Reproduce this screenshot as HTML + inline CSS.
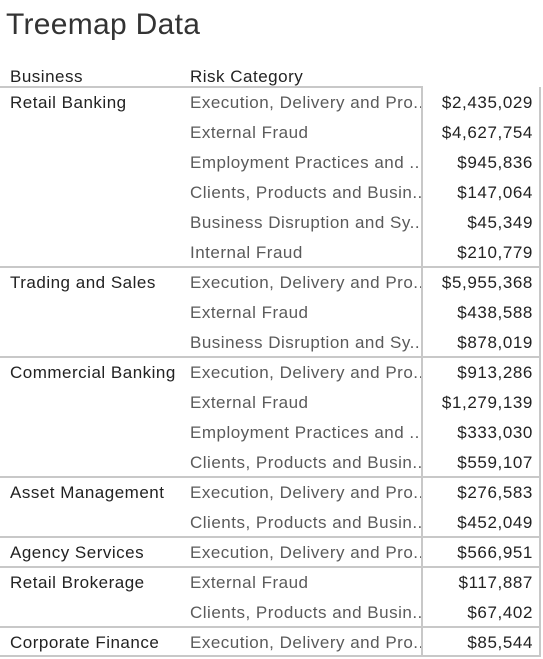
<!DOCTYPE html>
<html><head><meta charset="utf-8"><style>
body{margin:0;width:543px;height:659px;background:#fff;font-family:"Liberation Sans",Arial,sans-serif;position:relative;overflow:hidden}
.t{position:absolute;white-space:nowrap;font-size:17px;letter-spacing:0.5px;line-height:30px}
.h{position:absolute;height:2px;background:#c8c8c8}
.v{position:absolute;width:2px;background:#c8c8c8}
</style></head><body>
<div class="t" style="left:6px;top:8px;font-size:30px;letter-spacing:0.3px;line-height:34px;color:#333">Treemap Data</div>
<div class="t" style="left:10px;top:63px;line-height:28px;color:#222">Business</div>
<div class="t" style="left:190px;top:63px;line-height:28px;color:#222">Risk Category</div>
<div id="tbl"></div>
<script>
const businesses=["Retail Banking","Retail Banking","Retail Banking","Retail Banking","Retail Banking","Retail Banking","Trading and Sales","Trading and Sales","Trading and Sales","Commercial Banking","Commercial Banking","Commercial Banking","Commercial Banking","Asset Management","Asset Management","Agency Services","Retail Brokerage","Retail Brokerage","Corporate Finance"];
const categories=["Execution, Delivery and Pro..","External Fraud","Employment Practices and ..","Clients, Products and Busin..","Business Disruption and Sy..","Internal Fraud","Execution, Delivery and Pro..","External Fraud","Business Disruption and Sy..","Execution, Delivery and Pro..","External Fraud","Employment Practices and ..","Clients, Products and Busin..","Execution, Delivery and Pro..","Clients, Products and Busin..","Execution, Delivery and Pro..","External Fraud","Clients, Products and Busin..","Execution, Delivery and Pro.."];
const values=[2435029,4627754,945836,147064,45349,210779,5955368,438588,878019,913286,1279139,333030,559107,276583,452049,566951,117887,67402,85544];
const tbl=document.getElementById('tbl');
const top0=87,rh=30;
function add(cls,style,text){const d=document.createElement('div');d.className=cls;d.style.cssText=style;if(text!==undefined)d.textContent=text;tbl.appendChild(d);return d;}
let line=add('h','left:0;top:86px;width:423px');


for(let i=0;i<values.length;i++){
  const y=top0+i*rh+1;
  const first=i===0||businesses[i]!==businesses[i-1];
  if(first){
    const b=add('t',`left:10px;top:${y}px;color:#222`,businesses[i]);
    
    
    if(i>0){const s=add('h',`left:0;top:${y-2}px;width:541px`);
      
      }
  }
  const c=add('t',`left:190px;top:${y}px;color:#5a5a5a`,categories[i]);
  
  
  const v=add('t',`right:10px;top:${y}px;color:#222;text-align:right;letter-spacing:0.6px`,'$'+values[i].toLocaleString('en-US'));
  
  
}
const bottom=top0+values.length*rh;
let e=add('v',`left:421px;top:87px;height:${bottom-87}px`);


e=add('v',`left:539px;top:87px;height:${bottom-87}px`);


e=add('h',`left:0;top:${bottom-2}px;width:541px`);


</script>
</body></html>
